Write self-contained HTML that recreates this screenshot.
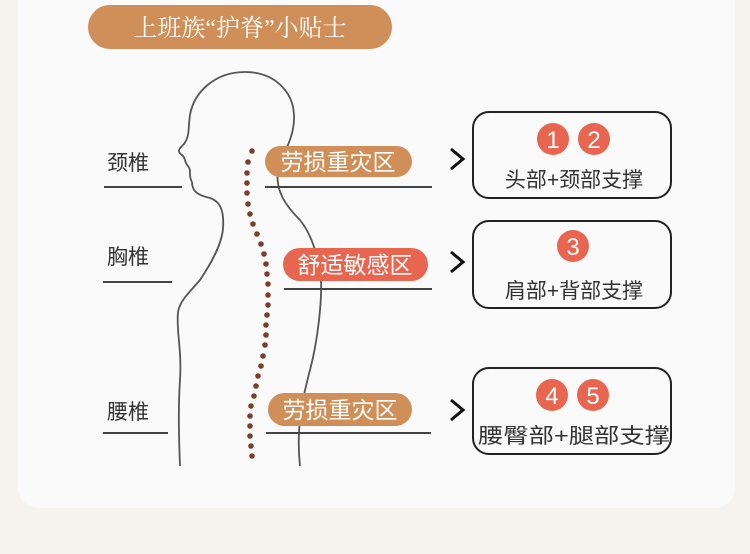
<!DOCTYPE html><html><head><meta charset="utf-8"><style>
html,body{margin:0;padding:0;background:#f6f3ee;}
.wrap{position:relative;width:750px;height:554px;overflow:hidden;font-family:"Liberation Sans","Noto Sans CJK SC",sans-serif;}
.card{position:absolute;left:18px;top:-20px;width:717px;height:528px;background:#fafafa;border-radius:20px;}
</style></head><body><div class="wrap"><div class="card"></div>
<svg width="750" height="554" style="position:absolute;left:0;top:0" font-family="Liberation Sans, Noto Sans CJK SC, sans-serif">
<rect x="88" y="5" width="304" height="44" rx="22" fill="#d08f58"/>
<text x="240" y="36" text-anchor="middle" font-size="24" fill="#fff" font-family="Liberation Serif, Noto Serif CJK SC, serif">上班族“护脊”小贴士</text>
<g fill="none" stroke="#555" stroke-width="1.8">
<path d="M192,182 C188,176 192,170 188,166 C184,162 186,158 182,155 C176,151 180,148 184,144 C190,136 188,128 190,115 C194,92 215,72 245,72 C275,72 293,92 294,115 C295,135 285,150 278,170 C275,190 285,205 300,220 C312,235 318,255 321,280 C322,300 318,340 310,370 C302,400 296,430 300,466"/>
<path d="M192,182 C192,190 196,195 210,198 C222,202 224,214 223,228 C222,245 210,265 200,280 C190,292 180,300 178,312 C176,330 182,350 180,380 C178,410 179,440 180,466"/>
</g>
<g fill="#7a3f2a">
<circle cx="252" cy="151" r="2.8"/><circle cx="248" cy="162" r="2.8"/><circle cx="247" cy="173" r="2.8"/><circle cx="247" cy="183" r="2.8"/><circle cx="247" cy="193" r="2.8"/><circle cx="248" cy="204" r="2.8"/><circle cx="250" cy="214" r="2.8"/><circle cx="253" cy="224" r="2.8"/><circle cx="257" cy="234" r="2.8"/><circle cx="261" cy="244" r="2.8"/><circle cx="264" cy="254" r="2.8"/><circle cx="266" cy="264" r="2.8"/><circle cx="267" cy="274" r="2.8"/><circle cx="268" cy="284" r="2.8"/><circle cx="268" cy="295" r="2.8"/><circle cx="268" cy="305" r="2.8"/><circle cx="267" cy="315" r="2.8"/><circle cx="266" cy="325" r="2.8"/><circle cx="266" cy="335" r="2.8"/><circle cx="265" cy="345" r="2.8"/><circle cx="263" cy="356" r="2.8"/><circle cx="261" cy="366" r="2.8"/><circle cx="258" cy="376" r="2.8"/><circle cx="256" cy="386" r="2.8"/><circle cx="254" cy="396" r="2.8"/><circle cx="251" cy="406" r="2.8"/><circle cx="250" cy="416" r="2.8"/><circle cx="250" cy="426" r="2.8"/><circle cx="250" cy="436" r="2.8"/><circle cx="251" cy="446" r="2.8"/><circle cx="252" cy="456" r="2.8"/>
</g>
<g font-size="21" fill="#333">
<text x="107" y="170">颈椎</text><text x="107" y="264">胸椎</text><text x="107" y="419">腰椎</text>
</g>
<g stroke="#444" stroke-width="2">
<line x1="104" y1="187" x2="182" y2="187"/><line x1="103" y1="282" x2="172" y2="282"/><line x1="103" y1="433" x2="168" y2="433"/>
<line x1="265" y1="187" x2="432" y2="187"/><line x1="284" y1="289" x2="432" y2="289"/><line x1="266" y1="433" x2="431" y2="433"/>
</g>
<rect x="265" y="146" width="147" height="31" rx="15.5" fill="#d08f58"/>
<text x="338" y="170" text-anchor="middle" font-size="23" fill="#fff">劳损重灾区</text>
<rect x="283" y="248" width="145" height="33" rx="16.5" fill="#e8664f"/>
<text x="355" y="273" text-anchor="middle" font-size="23" fill="#fff">舒适敏感区</text>
<rect x="268" y="393" width="144" height="33" rx="16.5" fill="#d08f58"/>
<text x="340" y="418" text-anchor="middle" font-size="23" fill="#fff">劳损重灾区</text>
<g fill="none" stroke="#111" stroke-width="3">
<polyline points="451,149 463,159 451,169"/><polyline points="451,252 463,262 451,272"/><polyline points="451,400 463,410 451,420"/>
</g>
<g fill="none" stroke="#222" stroke-width="2">
<rect x="473" y="112" width="198" height="86" rx="16"/><rect x="473" y="221" width="198" height="87" rx="16"/><rect x="473" y="368" width="198" height="86" rx="16"/>
</g>
<g fill="#e8664f"><circle cx="553" cy="139" r="16"/><circle cx="594" cy="139" r="16"/><circle cx="573" cy="246" r="16"/><circle cx="552" cy="395" r="16"/><circle cx="593" cy="395" r="16"/></g>
<g fill="#fff" font-size="24" text-anchor="middle">
<text x="553" y="148">1</text><text x="594" y="148">2</text><text x="573" y="255">3</text><text x="552" y="404">4</text><text x="593" y="404">5</text>
</g>
<g fill="#333" font-size="21" text-anchor="middle">
<text x="574" y="187">头部+颈部支撑</text><text x="574" y="298">肩部+背部支撑</text><text x="574" y="443" textLength="192" lengthAdjust="spacingAndGlyphs">腰臀部+腿部支撑</text>
</g>
</svg></div></body></html>
